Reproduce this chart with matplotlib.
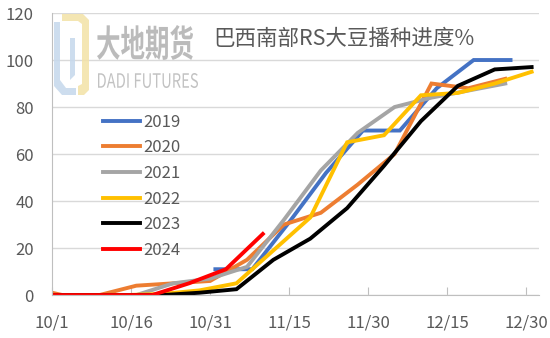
import matplotlib
matplotlib.use("Agg")
import matplotlib.pyplot as plt
from matplotlib.textpath import TextPath
from matplotlib.patches import PathPatch, Polygon
from matplotlib.font_manager import FontProperties
from matplotlib.transforms import Affine2D, IdentityTransform

plt.rcParams['font.family'] = ['Noto Sans CJK SC', 'DejaVu Sans']

# days counted from 10/1
tick_days = [0, 15, 30, 45, 60, 75, 90]
tick_labels = ['10/1', '10/16', '10/31', '11/15', '11/30', '12/15', '12/30']

days_2019 = [31, 38, 45, 52, 59, 66, 73, 80, 87]
vals_2019 = [11, 11, 31, 52, 70, 70, 88, 100, 100]

days_2020 = [0, 2, 9, 16, 23, 30, 37, 44, 51, 58, 65, 72, 79, 86]
vals_2020 = [1, 0, 0, 4, 5, 6, 15, 30, 35, 47, 60, 90, 88, 92]

days_2021 = [2, 9, 16, 23, 30, 37, 44, 51, 58, 65, 72, 79, 86]
vals_2021 = [0, 0, 0, 5, 7, 12, 32, 53, 69, 80, 84, 87, 90]

days_2022 = [0, 7, 14, 21, 28, 35, 42, 49, 56, 63, 70, 77, 84, 91]
vals_2022 = [0, 0, 0, 0.5, 2, 5, 19, 33, 65, 68, 85, 86, 90, 95]

days_2023 = [0, 7, 14, 21, 28, 35, 42, 49, 56, 63, 70, 77, 84, 91]
vals_2023 = [0, 0, 0, 0, 1, 2.5, 15, 24, 37, 55, 74, 89, 96, 97]

days_2024 = [0, 5, 12, 19, 26, 33, 40]
vals_2024 = [0, 0, 0, 0, 5, 11, 26]

series = [
    ('2019', days_2019, vals_2019, '#4472C4'),
    ('2020', days_2020, vals_2020, '#ED7D31'),
    ('2021', days_2021, vals_2021, '#A5A5A5'),
    ('2022', days_2022, vals_2022, '#FFC000'),
    ('2023', days_2023, vals_2023, '#000000'),
    ('2024', days_2024, vals_2024, '#FF0000'),
]

text_color = '#595959'
W, H = 550, 338

fig = plt.figure(figsize=(W / 100, H / 100), dpi=100)
ax = fig.add_axes([0.0945, 0.127, 0.8855, 0.8345])

for label, d, v, c in series:
    ax.plot(d, v, color=c, lw=2.8, label=label, solid_joinstyle='miter')

ax.set_xlim(0, 92.4)
ax.set_ylim(0, 120)
ax.set_yticks(range(0, 121, 20))
ax.set_xticks(tick_days)
ax.set_xticklabels(tick_labels)
ax.grid(axis='y', color='#d9d9d9', lw=1)
ax.set_axisbelow(True)

for side in ['top', 'right']:
    ax.spines[side].set_visible(False)
for side in ['left', 'bottom']:
    ax.spines[side].set_color('#bfbfbf')

ax.tick_params(axis='y', length=0, pad=13, labelsize=12, labelcolor=text_color)
ax.tick_params(axis='x', direction='in', length=6, color='#bfbfbf', pad=14,
               labelsize=12, labelcolor=text_color)

ax.legend(loc='upper left', bbox_to_anchor=(0.091, 0.667), frameon=False,
          fontsize=12, labelcolor=text_color, handlelength=2.25,
          handletextpad=0.15, labelspacing=0.52, borderaxespad=0)

# title inside plot area
ax.text(0.332, 0.908, '巴西南部RS大豆播种进度%', transform=ax.transAxes,
        fontsize=15.5, color=text_color, va='center', ha='left')


# watermark, boxes given in pixels from the top-left corner
def boxed_text(s, x0, y0, x1, y1, color, weight='bold'):
    tp = TextPath((0, 0), s, size=1, prop=FontProperties(family='Noto Sans CJK SC', weight=weight))
    ext = tp.get_extents()
    sx = (x1 - x0) / ext.width
    sy = (y1 - y0) / ext.height
    tr = Affine2D().translate(-ext.x0, -ext.y0).scale(sx, sy).translate(x0, H - y1)
    fig.patches.append(PathPatch(tr.transform_path(tp), transform=IdentityTransform(),
                                 fc=color, ec='none', alpha=0.85, zorder=5))


boxed_text('大地期货', 97, 25, 193, 60, '#b0b0b0')
boxed_text('DADI FUTURES', 98, 73, 198, 88, '#b8b8b8', weight='normal')

yellow = [(53, 14), (83, 14), (89, 20), (89, 90), (84, 95), (78, 95), (78, 86),
          (82, 84), (82, 24), (78, 21), (62, 21), (62, 14)]
blue = [(54, 22), (60, 22), (60, 80), (66, 88), (76, 88), (76, 95), (62, 95),
        (54, 86)]
for pts, col in [(yellow, '#f3e2a6'), (blue, '#c5d8ec')]:
    fig.patches.append(Polygon([(x, H - y) for x, y in pts], closed=True,
                               transform=IdentityTransform(), fc=col, ec='none',
                               alpha=0.85, zorder=5))
blue_in = [(70, 38), (75, 38), (75, 75), (70, 80)]
fig.patches.append(Polygon([(x, H - y) for x, y in blue_in], closed=True,
                           transform=IdentityTransform(), fc='#c5d8ec', ec='none',
                           alpha=0.85, zorder=5))

fig.savefig('out.png', dpi=100)
